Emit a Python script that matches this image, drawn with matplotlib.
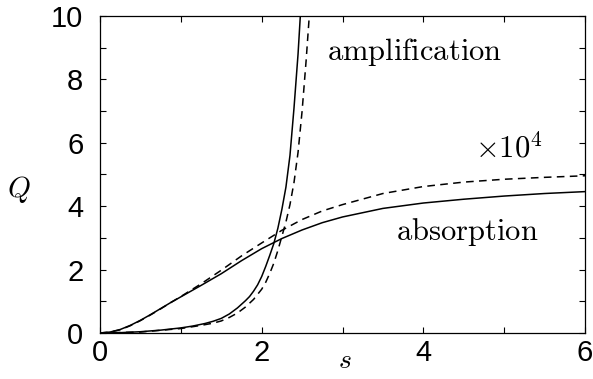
import matplotlib
matplotlib.use("Agg")
import matplotlib.pyplot as plt
from matplotlib.ticker import MultipleLocator

plt.rcParams['mathtext.fontset'] = 'cm'

# absorption curves (solid / dashed)
abs_s = [0, 0.125, 0.25, 0.375, 0.5, 0.625, 0.75, 0.875, 1.0, 1.25, 1.5, 1.75, 2.0, 2.25, 2.5, 2.75,
         3.0, 3.5, 4.0, 4.5, 5.0, 5.5, 6.0]
abs_solid = [0, 0.03, 0.11, 0.24, 0.4, 0.58, 0.77, 0.96, 1.14, 1.5, 1.87, 2.28, 2.66, 2.98, 3.25, 3.48,
             3.66, 3.93, 4.1, 4.22, 4.32, 4.4, 4.46]
abs_dashed = [0, 0.03, 0.1, 0.23, 0.39, 0.57, 0.76, 0.96, 1.15, 1.55, 1.98, 2.43, 2.84, 3.24, 3.58, 3.85,
              4.05, 4.4, 4.62, 4.76, 4.85, 4.91, 4.96]

# amplification curves
amp_s_solid = [0, 0.25, 0.5, 0.75, 1.0, 1.15, 1.3, 1.4, 1.5, 1.6, 1.7, 1.8, 1.85, 1.9, 1.95, 2.0, 2.05, 2.1,
               2.15, 2.2, 2.25, 2.3, 2.35, 2.4, 2.45, 2.485]
amp_solid = [0, 0.01, 0.04, 0.09, 0.16, 0.22, 0.3, 0.37, 0.46, 0.6, 0.79, 1.02, 1.15, 1.32, 1.52, 1.78, 2.1, 2.45,
             2.82, 3.3, 3.9, 4.6, 5.6, 7.1, 8.8, 10.3]
amp_s_dashed = [0, 0.5, 1.0, 1.25, 1.4, 1.5, 1.6, 1.7, 1.8, 1.9, 2.0, 2.05, 2.1, 2.15, 2.2, 2.25, 2.3,
                2.35, 2.4, 2.45, 2.5, 2.55, 2.6]
amp_dashed = [0, 0.03, 0.14, 0.24, 0.31, 0.38, 0.49, 0.63, 0.82, 1.06, 1.38, 1.6, 1.88, 2.2, 2.6, 3.05, 3.5,
              4.05, 4.75, 5.7, 7.0, 8.6, 10.4]

fig = plt.figure(figsize=(5.93, 3.79), dpi=100)
ax = fig.add_axes([0.1686, 0.1214, 0.818, 0.8364])

dash = (0, (5, 3.5))
ax.plot(abs_s, abs_solid, color='black', lw=1.1)
ax.plot(abs_s, abs_dashed, color='black', lw=1.1, linestyle=dash)
ax.plot(amp_s_solid, amp_solid, color='black', lw=1.1)
ax.plot(amp_s_dashed, amp_dashed, color='black', lw=1.1, linestyle=dash)

ax.set_xlim(0, 6)
ax.set_ylim(0, 10)
ax.xaxis.set_major_locator(MultipleLocator(2))
ax.xaxis.set_minor_locator(MultipleLocator(1))
ax.yaxis.set_major_locator(MultipleLocator(2))
ax.yaxis.set_minor_locator(MultipleLocator(1))
ax.tick_params(which='both', direction='in', top=True, right=True, width=0.8, length=4.5)
ax.tick_params(which='major', labelsize=21)
ax.tick_params(axis='y', pad=12)
ax.tick_params(axis='x', pad=4)
for lab in ax.get_xticklabels() + ax.get_yticklabels():
    lab.set_family('Liberation Sans')
for sp in ax.spines.values():
    sp.set_linewidth(0.9)

fig.text(0.032, 0.5, r'$Q$', fontsize=21, ha='center', va='center')
fig.text(0.582, 0.05, r'$s$', fontsize=20, ha='center', va='center')

ax.text(2.81, 8.85, r'$\mathrm{amplification}$', fontsize=22, ha='left', va='center')
ax.text(4.64, 5.85, r'$\times10^4$', fontsize=22, ha='left', va='center')
ax.text(3.66, 3.2, r'$\mathrm{absorption}$', fontsize=22, ha='left', va='center')

fig.savefig('out.png', dpi=100)
